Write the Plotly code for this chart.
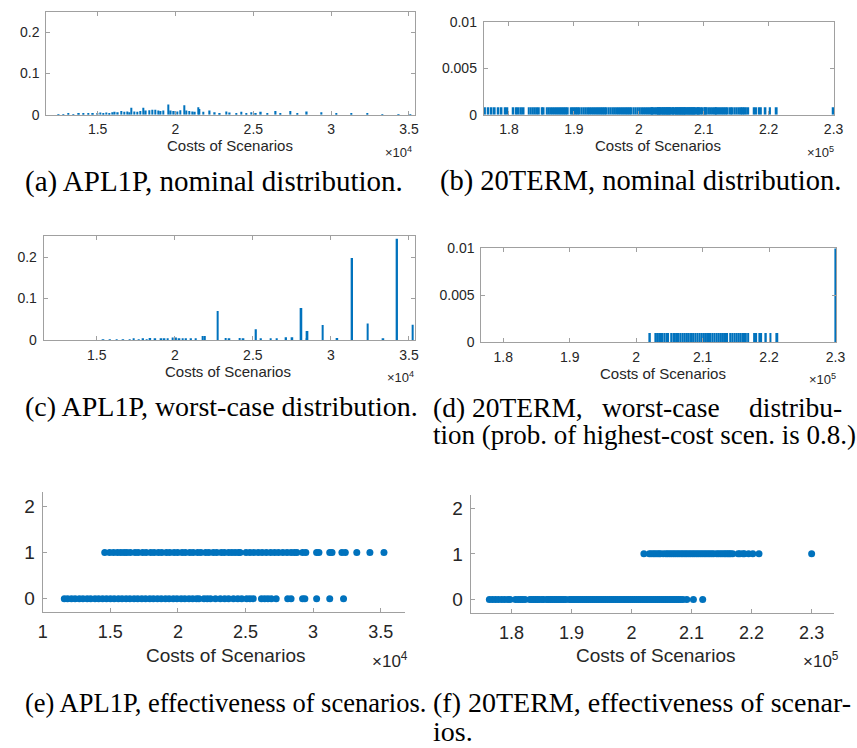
import plotly.graph_objects as go

W, H = 857, 748

# ---------------- data ----------------
# (a) APL1P, nominal distribution: scenario cost -> probability
apl_nominal_cost = [
    12500, 12800, 13100, 13450, 13800, 14100, 14400, 14700, 15000, 15150,
    15350, 15550, 15750, 15950, 16100, 16300, 16500, 16700, 16900, 17050,
    17150, 17350, 17550, 17750, 17950, 18100, 18300, 18500, 18700, 18900,
    19050, 19200, 19550, 19700, 19900, 20100, 20300, 20550, 20700, 20900,
    21100, 21250, 21480, 21550, 21800, 22200, 22530, 22850, 23270, 23490,
    23900, 24220, 24540, 24860, 25170, 25490, 25910, 26440, 26750, 27390,
    27810, 28440, 29390, 30340, 31290, 32340, 33290, 34350, 35090]
apl_nominal_prob = [
    0.001, 0.001, 0.002, 0.001, 0.002, 0.002, 0.003, 0.002, 0.003, 0.005,
    0.004, 0.005, 0.004, 0.006, 0.007, 0.006, 0.009, 0.007, 0.008, 0.006,
    0.017, 0.008, 0.007, 0.009, 0.017, 0.010, 0.011, 0.012, 0.012, 0.010,
    0.009, 0.010, 0.025, 0.010, 0.009, 0.008, 0.011, 0.023, 0.010, 0.009,
    0.008, 0.007, 0.018, 0.014, 0.007, 0.010, 0.006, 0.004, 0.008, 0.005,
    0.004, 0.007, 0.004, 0.006, 0.004, 0.007, 0.002, 0.009, 0.002, 0.009,
    0.002, 0.008, 0.006, 0.003, 0.004, 0.002, 0.001, 0.001, 0.001]

# (c) APL1P, worst-case distribution
apl_worst_cost = [
    15430, 15850, 16270, 16700, 17120, 17370, 17700, 17970, 18200, 18430,
    18750, 19130, 19340, 19550, 19870, 20080, 20300, 20500, 20720, 21040,
    21350, 21780, 21930, 22750, 23260, 23500, 24150, 24400, 25200, 25520,
    26140, 26540, 27130, 27530, 28110, 28450, 28500, 29480, 30410, 31360,
    32360, 33360, 34240, 35240]
apl_worst_prob = [
    0.001, 0.001, 0.001, 0.001, 0.001, 0.003, 0.001, 0.002, 0.001, 0.005,
    0.002, 0.004, 0.004, 0.004, 0.006, 0.006, 0.003, 0.002, 0.004, 0.004,
    0.002, 0.010, 0.010, 0.070, 0.005, 0.002, 0.005, 0.002, 0.026, 0.003,
    0.003, 0.003, 0.007, 0.007, 0.077, 0.003, 0.022, 0.036, 0.005, 0.198,
    0.040, 0.002, 0.244, 0.037]

# (e) APL1P, effectiveness of scenarios (1 = effective, 0 = not effective)
apl_effective_cost = [
    14590, 14950, 15240, 15530, 15780, 16020, 16220, 16480, 16830, 17060,
    17390, 17650, 17990, 18240, 18560, 18810, 19150, 19400, 19720, 19980,
    20310, 20550, 20880, 21130, 21460, 21700, 22050, 22290, 22620, 22870,
    23210, 23440, 23750, 23990, 24230, 24480, 24600, 25040, 25330, 25620,
    25940, 26230, 26540, 26860, 27150, 27440, 27760, 28070, 28370, 28610,
    28800, 29220, 29460, 30260, 30430, 31230, 31400, 32130, 32380, 33230,
    34200, 35240]
apl_ineffective_cost = [
    11600, 11840, 12130, 12400, 12710, 12980, 13290, 13550, 13870, 14140,
    14430, 14720, 15010, 15290, 15600, 15870, 16170, 16450, 16760, 17030,
    17330, 17610, 17920, 18190, 18490, 18770, 19080, 19350, 19660, 19930,
    20240, 20510, 20820, 21090, 21380, 21560, 21930, 22170, 22410, 22780,
    23140, 23460, 23750, 24110, 24430, 24720, 25090, 25330, 25570, 26180,
    26420, 26660, 26910, 27270, 28120, 28370, 29220, 29390, 30260, 31230,
    32250]

# 20TERM scenarios: effective (positive worst-case probability) and not effective
term_effective_cost = [
    202050, 202950, 203250, 203600, 203900, 204230, 204550, 204800, 205270, 205700,
    206000, 206330, 206640, 206970, 207280, 207610, 207920, 208250, 208560, 208890,
    209200, 209530, 209840, 210170, 210480, 210810, 211120, 211450, 211760, 212090,
    212400, 212730, 213040, 213370, 213680, 214150, 214460, 214790, 215100, 215430,
    215700, 216000, 216250, 216500, 216850, 217750, 218050, 218550, 218800, 219500,
    220200, 221230, 230000]
term_ineffective_cost = [
    176300, 176800, 177300, 177800, 178350, 178850, 179400, 179750, 180650, 181100,
    181500, 181850, 182250, 183050, 183370, 183690, 184000, 184330, 184600, 185050,
    185330, 185850, 186160, 186490, 186800, 187130, 187440, 187770, 188080, 188400,
    188720, 189050, 189620, 189930, 190260, 190570, 190900, 191210, 191540, 191850,
    192180, 192490, 192820, 193130, 193460, 193770, 194100, 194410, 194740, 195050,
    195380, 195690, 196020, 196330, 196660, 196970, 197300, 197610, 197940, 198250,
    198580, 198890, 199220, 199530, 199860, 200170, 200500, 200810, 201140, 201450,
    201780, 202090, 202420, 202730, 203060, 203370, 203700, 204010, 204340, 204650,
    204980, 205290, 205620, 205930, 206260, 206570, 206900, 207210, 207540, 207850,
    208180, 208560, 209200, 210300, 211850]
term_nominal_prob = 0.0008          # uniform nominal probability
term_worst_prob_other = 0.001       # worst-case prob. of the other effective scenarios
term_worst_prob_highest = 0.8       # worst-case prob. of the highest-cost scenario

# ticks
apl_tick_vals = [15000, 20000, 25000, 30000, 35000]
apl_tick_text = ["1.5", "2", "2.5", "3", "3.5"]
apl_e_tick_vals = [10000, 15000, 20000, 25000, 30000, 35000]
apl_e_tick_text = ["1", "1.5", "2", "2.5", "3", "3.5"]
term_tick_vals = [180000, 190000, 200000, 210000, 220000, 230000]
term_tick_text = ["1.8", "1.9", "2", "2.1", "2.2", "2.3"]
prob_apl_ticks = [0, 0.1, 0.2]
prob_apl_text = ["0", "0.1", "0.2"]
prob_term_ticks = [0, 0.005, 0.01]
prob_term_text = ["0", "0.005", "0.01"]
eff_ticks = [0, 1, 2]
eff_text = ["0", "1", "2"]

axis_title = "Costs of Scenarios"
captions = {
    "a": "(a) APL1P, nominal distribution.",
    "b": "(b) 20TERM, nominal distribution.",
    "c": "(c) APL1P, worst-case distribution.",
    "e": "(e) APL1P, effectiveness of scenarios.",
    "f": "(f) 20TERM, effectiveness of scenar-",
}

# ---------------- figure ----------------
BLUE = "#0072BD"
AX = "#a0a0a0"
TXT = "#262626"
SANS = "Liberation Sans, Arial, Helvetica, sans-serif"
SERIF = "Liberation Serif, Times New Roman, serif"


def dx(l, r):
    return [l / W, r / W]


def dy(t, b):
    return [1 - b / H, 1 - t / H]


def px(x):
    return x / W


def py(y):
    return 1 - y / H


fig = go.Figure()

term_all_cost = term_ineffective_cost + term_effective_cost
term_worst_prob = [term_worst_prob_other] * (len(term_effective_cost) - 1) + [term_worst_prob_highest]

fig.add_trace(go.Bar(x=apl_nominal_cost, y=apl_nominal_prob, width=90,
                     marker=dict(color=BLUE, line=dict(width=0)), xaxis="x", yaxis="y"))
fig.add_trace(go.Bar(x=term_all_cost, y=[term_nominal_prob] * len(term_all_cost), width=300,
                     marker=dict(color=BLUE, line=dict(width=0)), xaxis="x2", yaxis="y2"))
fig.add_trace(go.Bar(x=apl_worst_cost, y=apl_worst_prob, width=110,
                     marker=dict(color=BLUE, line=dict(width=0)), xaxis="x3", yaxis="y3"))
fig.add_trace(go.Bar(x=term_effective_cost, y=term_worst_prob, width=300,
                     marker=dict(color=BLUE, line=dict(width=0)), xaxis="x4", yaxis="y4"))
fig.add_trace(go.Scatter(x=apl_ineffective_cost + apl_effective_cost,
                         y=[0] * len(apl_ineffective_cost) + [1] * len(apl_effective_cost),
                         mode="markers", marker=dict(color=BLUE, size=7),
                         xaxis="x5", yaxis="y5"))
fig.add_trace(go.Scatter(x=term_ineffective_cost + term_effective_cost,
                         y=[0] * len(term_ineffective_cost) + [1] * len(term_effective_cost),
                         mode="markers", marker=dict(color=BLUE, size=7),
                         xaxis="x6", yaxis="y6"))


def xax(domain, rng, vals, text, anchor, mirror, size, standoff=3):
    return dict(domain=domain, range=rng, tickvals=vals, ticktext=text, anchor=anchor,
                showline=True, linecolor=AX, linewidth=1, mirror=mirror,
                ticks="inside", ticklen=4, tickcolor=AX, showgrid=False, zeroline=False,
                tickfont=dict(family=SANS, size=size, color=TXT), ticklabelstandoff=standoff)


def yax(domain, rng, vals, text, anchor, mirror, size):
    return dict(domain=domain, range=rng, tickvals=vals, ticktext=text, anchor=anchor,
                showline=True, linecolor=AX, linewidth=1, mirror=mirror,
                ticks="inside", ticklen=4, tickcolor=AX, showgrid=False, zeroline=False,
                tickfont=dict(family=SANS, size=size, color=TXT), ticklabelstandoff=3)


layout = dict(
    width=W, height=H, autosize=False, margin=dict(l=0, r=0, t=0, b=0),
    paper_bgcolor="white", plot_bgcolor="white", showlegend=False, barmode="overlay",
    xaxis=xax(dx(42, 417), [11700, 35400], apl_tick_vals, apl_tick_text, "y", "ticks", 14, 2),
    yaxis=yax(dy(4, 109), [0, 0.25], prob_apl_ticks, prob_apl_text, "x", "ticks", 14),
    xaxis2=xax(dx(486.7, 843), [176120, 230100], term_tick_vals, term_tick_text, "y2", "ticks", 14, 2),
    yaxis2=yax(dy(14, 109), [0, 0.01], prob_term_ticks, prob_term_text, "x2", "ticks", 14),
    xaxis3=xax(dx(39.3, 416.7), [11600, 35380], apl_tick_vals, apl_tick_text, "y3", "ticks", 14, 2),
    yaxis3=yax(dy(233.3, 339.3), [0, 0.25], prob_apl_ticks, prob_apl_text, "x3", "ticks", 14),
    xaxis4=xax(dx(484.3, 845), [176700, 230100], term_tick_vals, term_tick_text, "y4", "ticks", 14, 2),
    yaxis4=yax(dy(245.7, 341.7), [0, 0.01], prob_term_ticks, prob_term_text, "x4", "ticks", 14),
    xaxis5=xax(dx(38.3, 406.7), [10000, 36800], apl_e_tick_vals, apl_e_tick_text, "y5", False, 18),
    yaxis5=yax(dy(495, 617.7), [-0.3, 2.3], eff_ticks, eff_text, "x5", False, 19),
    xaxis6=xax(dx(473.3, 842.3), [173170, 233650], term_tick_vals, term_tick_text, "y6", False, 18),
    yaxis6=yax(dy(497.3, 618.3), [-0.3, 2.3], eff_ticks, eff_text, "x6", False, 19),
)
fig.update_layout(**layout)

ann = []


def text(x, y, s, size, family=SANS, xanchor="center", color=TXT, yanchor="middle"):
    ann.append(dict(x=px(x), y=py(y), xref="paper", yref="paper", text=s, showarrow=False,
                    xanchor=xanchor, yanchor=yanchor,
                    font=dict(family=family, size=size, color=color)))


# axis titles and exponent labels
text(229, 141, axis_title, 15)
text(664, 141, axis_title, 15)
text(227, 371, axis_title, 15)
text(669, 373, axis_title, 15)
text(224, 662, axis_title, 19)
text(661, 662, axis_title, 19)
text(416, 147, "×10<sup>4</sup>", 13, xanchor="right")
text(845, 147, "×10<sup>5</sup>", 13, xanchor="right")
text(418, 377, "×10<sup>4</sup>", 13, xanchor="right")
text(847, 379, "×10<sup>5</sup>", 13, xanchor="right")
text(412, 666, "×10<sup>4</sup>", 17, xanchor="right")
text(850, 666, "×10<sup>5</sup>", 17, xanchor="right")

# captions
K = "black"
text(18, 177, captions["a"], 29, SERIF, "left", K)
text(440, 177, captions["b"], 28.5, SERIF, "left", K)
text(18, 407, captions["c"], 28, SERIF, "left", K)
text(433, 408, "(d) 20TERM,", 27.5, SERIF, "left", K)
text(667, 408, "worst-case", 27.5, SERIF, "center", K)
text(853, 408, "distribu-", 27.5, SERIF, "right", K)
text(433, 436, "tion (prob. of highest-cost scen. is 0.8.)", 27, SERIF, "left", K)
text(18, 710, captions["e"], 26.5, SERIF, "left", K)
text(433, 710, captions["f"], 28, SERIF, "left", K)
text(433, 739, "ios.", 28, SERIF, "left", K)

fig.update_layout(annotations=ann)
fig.write_html("out.html")
